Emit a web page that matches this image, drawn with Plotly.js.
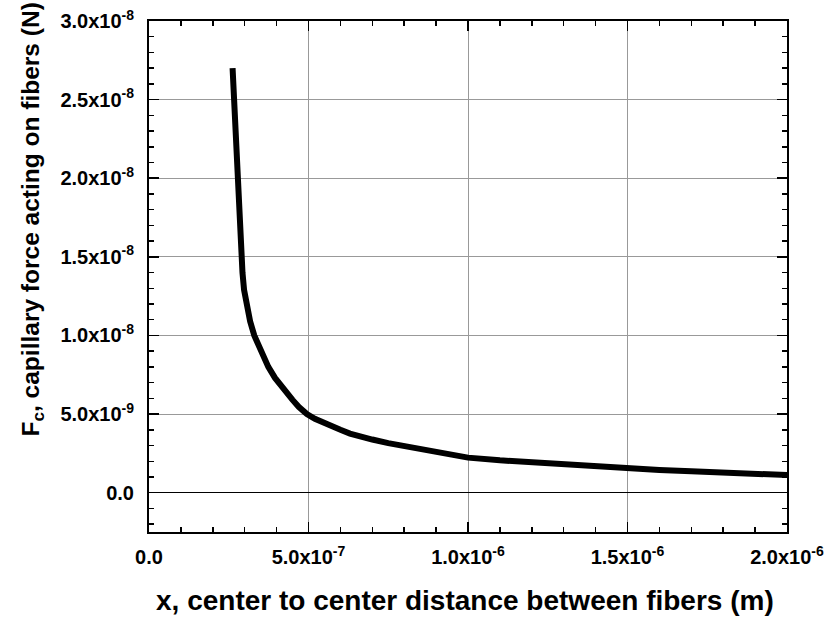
<!DOCTYPE html>
<html>
<head>
<meta charset="utf-8">
<script src="https://cdn.plot.ly/plotly-3.0.1.min.js"></script>
<style>html,body{margin:0;padding:0;background:#fff;}#chart{width:830px;height:617px;}</style>
</head>
<body>
<div id="chart"></div>
<script>
// x: center-to-center distance (m); F: capillary force (N)
const xDist = [2.62e-7, 2.84e-7, 2.89e-7, 2.93e-7, 2.98e-7, 3.07e-7, 3.17e-7, 3.30e-7, 3.40e-7, 3.50e-7, 3.62e-7, 3.74e-7, 3.95e-7, 4.16e-7, 4.35e-7, 4.50e-7, 4.70e-7, 4.95e-7,
  5.2e-7, 5.5e-7, 5.75e-7, 6.0e-7, 6.3e-7, 6.6e-7, 7.0e-7, 7.5e-7, 7.87e-7, 8.5e-7, 9.0e-7, 9.5e-7, 1.0e-6, 1.1e-6, 1.2e-6, 1.256e-6, 1.35e-6, 1.5e-6, 1.6e-6, 1.7e-6, 1.8e-6, 1.9e-6, 2.0e-6];
const forceN = [2.70e-8, 1.65e-8, 1.50e-8, 1.40e-8, 1.29e-8, 1.18e-8, 1.09e-8, 1.00e-8, 9.5e-9, 9.06e-9, 8.5e-9, 8.0e-9, 7.3e-9, 6.73e-9, 6.25e-9, 5.9e-9, 5.45e-9, 5.0e-9,
  4.7e-9, 4.4e-9, 4.18e-9, 4.0e-9, 3.76e-9, 3.58e-9, 3.38e-9, 3.15e-9, 3.01e-9, 2.75e-9, 2.55e-9, 2.38e-9, 2.23e-9, 2.06e-9, 1.92e-9, 1.85e-9, 1.72e-9, 1.53e-9, 1.44e-9, 1.36e-9, 1.28e-9, 1.20e-9, 1.12e-9];

const xTickVals = [0, 5e-7, 1e-6, 1.5e-6, 2e-6];
const xTickText = ['0.0', '5.0x10<sup>-7</sup>', '1.0x10<sup>-6</sup>', '1.5x10<sup>-6</sup>', '2.0x10<sup>-6</sup>'];
const yTickVals = [0, 5e-9, 1e-8, 1.5e-8, 2e-8, 2.5e-8, 3e-8];
const yTickText = ['0.0', '5.0x10<sup>-9</sup>', '1.0x10<sup>-8</sup>', '1.5x10<sup>-8</sup>', '2.0x10<sup>-8</sup>', '2.5x10<sup>-8</sup>', '3.0x10<sup>-8</sup>'];

const xTitle = 'x, center to center distance between fibers (m)';
const yTitle = 'F<sub>c</sub>, capillary force acting on fibers (N)';

const FONT = 'Liberation Sans, Arial, sans-serif';

const trace = {
  x: xDist, y: forceN, type: 'scatter', mode: 'lines',
  line: {color: '#000', width: 6},
  hoverinfo: 'skip'
};

const layout = {
  width: 830, height: 617,
  margin: {l: 149, r: 43, t: 21, b: 85},
  paper_bgcolor: '#fff', plot_bgcolor: '#fff',
  showlegend: false,
  font: {family: FONT, size: 20, color: '#000'},
  xaxis: {
    showline: true, linecolor: '#000', linewidth: 2, mirror: 'ticks',
    ticks: 'inside', ticklen: 10, tickwidth: 1.5, tickcolor: '#000',
    showgrid: true, gridcolor: '#999', gridwidth: 1,
    tickfont: {family: FONT, size: 20, color: '#000', weight: 'bold'},
    tickmode: 'array',
    range: [0, 2e-6], tickvals: xTickVals, ticktext: xTickText,
    zeroline: false, ticklabelstandoff: 6,
    minor: {dtick: 1e-7, tick0: 0, ticks: 'inside', ticklen: 5, tickwidth: 1.5, tickcolor: '#000', showgrid: false}
  },
  yaxis: {
    showline: true, linecolor: '#000', linewidth: 2, mirror: 'ticks',
    ticks: 'inside', ticklen: 10, tickwidth: 1.5, tickcolor: '#000',
    showgrid: true, gridcolor: '#999', gridwidth: 1,
    tickfont: {family: FONT, size: 20, color: '#000', weight: 'bold'},
    tickmode: 'array',
    range: [-2.5e-9, 3e-8], tickvals: yTickVals, ticktext: yTickText,
    zeroline: true, zerolinecolor: '#000', zerolinewidth: 1.5, ticklabelstandoff: 9,
    minor: {dtick: 1e-9, tick0: 0, ticks: 'inside', ticklen: 5, tickwidth: 1.5, tickcolor: '#000', showgrid: false}
  },
  annotations: [
    {text: xTitle, xref: 'paper', yref: 'paper', x: 0.495, y: -0.135, xanchor: 'center', yanchor: 'middle',
     showarrow: false, font: {family: FONT, size: 28, color: '#000', weight: 'bold'}},
    {text: yTitle, xref: 'paper', yref: 'paper', x: -0.183, y: 0.612, xanchor: 'center', yanchor: 'middle', textangle: -90,
     showarrow: false, font: {family: FONT, size: 24.5, color: '#000', weight: 'bold'}}
  ]
};

Plotly.newPlot('chart', [trace], layout, {staticPlot: true, displayModeBar: false});
</script>
</body>
</html>
